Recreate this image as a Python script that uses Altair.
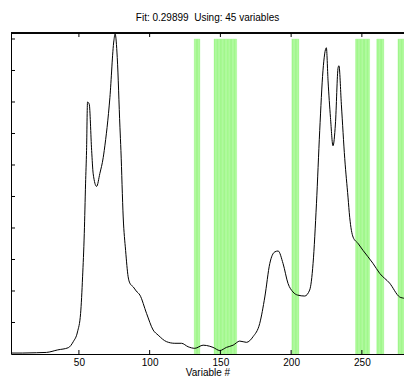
import altair as alt
import pandas as pd

# Spectrum (variable index, intensity)
spec_x = [2, 10, 20, 27, 35, 42.5, 46, 49, 51.2, 52.6, 53.8, 54.7, 55.4, 56.1, 57.3, 59, 60.1,
          62.5, 64.8, 67.2, 67.9, 71.9, 74.7, 75.6, 77.1, 79, 79.7, 81.3, 83, 84.8, 86, 88.4,
          90.5, 93.1, 97.8, 102.5, 106, 112, 117.8, 122.5, 127.2, 131.9, 137.8, 140.2, 144.8,
          149.6, 154.3, 159, 163.7, 168.4, 173.1, 177.8, 181.4, 184.9, 188.4, 190.8, 194.3,
          197.8, 201.3, 204.6, 209.6, 213.1, 215.5, 217.9, 220.2, 222.5, 224.9, 226.1, 227.8,
          229.6, 231.3, 233.2, 233.8, 235.5, 237.9, 240.2, 241.4, 243.8, 247.3, 250.8, 257.8,
          262.6, 269.6, 276.7, 280.2, 285, 287]
spec_y = [0.003, 0.003, 0.004, 0.005, 0.013, 0.02, 0.039, 0.07, 0.129, 0.245, 0.383, 0.54, 0.646,
          0.80, 0.793, 0.646, 0.572, 0.532, 0.573, 0.624, 0.646, 0.814, 0.994, 1.016, 0.941, 0.72,
          0.646, 0.435, 0.329, 0.245, 0.225, 0.213, 0.20, 0.187, 0.129, 0.076, 0.060, 0.039, 0.034,
          0.034, 0.023, 0.018, 0.028, 0.027, 0.021, 0.011, 0.021, 0.028, 0.041, 0.037, 0.055,
          0.097, 0.181, 0.287, 0.324, 0.327, 0.287, 0.224, 0.197, 0.187, 0.184, 0.203, 0.287,
          0.477, 0.709, 0.899, 0.972, 0.867, 0.751, 0.661, 0.73, 0.909, 0.915, 0.793, 0.62,
          0.498, 0.434, 0.371, 0.351, 0.329, 0.288, 0.256, 0.225, 0.181, 0.176, 0.160, 0.155]

# Selected variables (45)
selected = (list(range(132, 136)) + list(range(146, 162)) + list(range(201, 206)) +
            list(range(246, 256)) + list(range(261, 266)) + list(range(276, 281)))

x_ticks = [50, 100, 150, 200, 250]
y_ticks = [0.1, 0.2, 0.3, 0.4, 0.5, 0.6, 0.7, 0.8, 0.9, 1.0]

title_text = "Fit: 0.29899\u00a0 Using: 45 variables"
x_title = "Variable #"

W, H = 393, 321
FONT = "Liberation Sans, Arial, sans-serif"

spec = pd.DataFrame({"v": spec_x, "y": spec_y})
bars = pd.DataFrame({"v": selected})
bars["x0"] = bars["v"] - 0.5
bars["x1"] = bars["v"] + 0.5
bars["y0"] = 0.0
bars["y1"] = 1.0
xt = pd.DataFrame({"t": x_ticks})
yt = pd.DataFrame({"t": y_ticks})

xs = alt.Scale(domain=[2, 2 + W / 1.4148], nice=False, zero=False)
ys = alt.Scale(domain=[0, 1.019], nice=False, zero=False)

xaxis = alt.Axis(values=x_ticks, grid=False, ticks=False, tickSize=0, domain=True,
                 domainColor="black", domainWidth=1,
                 labelFont=FONT, labelFontSize=10, labelColor="black", labelPadding=3,
                 titleFont=FONT, titleFontSize=10, titleColor="black", titleFontWeight="normal",
                 titlePadding=0, labelBaseline="top")
yaxis = alt.Axis(labels=False, ticks=False, grid=False, domain=True, domainColor="black",
                 domainWidth=1, title=None)

bar_layer = alt.Chart(bars).mark_rect(color="#9CF784", stroke="#B4F9A4", strokeWidth=0.4,
                                      clip=True).encode(
    x=alt.X("x0:Q", scale=xs, axis=xaxis, title=x_title),
    x2="x1:Q",
    y=alt.Y("y0:Q", scale=ys, axis=yaxis),
    y2="y1:Q",
)

line_layer = alt.Chart(spec).mark_line(color="black", strokeWidth=1, interpolate="monotone", clip=True).encode(
    x=alt.X("v:Q", scale=xs),
    y=alt.Y("y:Q", scale=ys),
)

bot_ticks = alt.Chart(xt).mark_rule(color="black", strokeWidth=1).encode(
    x=alt.X("t:Q", scale=xs), y=alt.value(H), y2=alt.value(H - 4))
top_ticks = alt.Chart(xt).mark_rule(color="black", strokeWidth=1).encode(
    x=alt.X("t:Q", scale=xs), y=alt.value(0), y2=alt.value(4))
left_ticks = alt.Chart(yt).mark_rule(color="black", strokeWidth=1).encode(
    y=alt.Y("t:Q", scale=ys), x=alt.value(0), x2=alt.value(4))
top_frame = alt.Chart(xt).mark_rule(color="black", strokeWidth=1).encode(
    x=alt.value(0), x2=alt.value(W), y=alt.value(0))

chart = alt.layer(bar_layer, line_layer, bot_ticks, top_ticks, left_ticks, top_frame).properties(
    width=W, height=H,
    autosize=alt.AutoSizeParams(type="none"),
    padding={"left": 3, "top": 25, "right": 0, "bottom": 22},
    title=alt.TitleParams(title_text, font=FONT, fontSize=10, fontWeight="normal",
                          color="black", anchor="middle", baseline="alphabetic", offset=2),
).configure_view(stroke=None).configure(background="white")

chart.save("out.html", embed_options={"renderer": "svg", "actions": False})
